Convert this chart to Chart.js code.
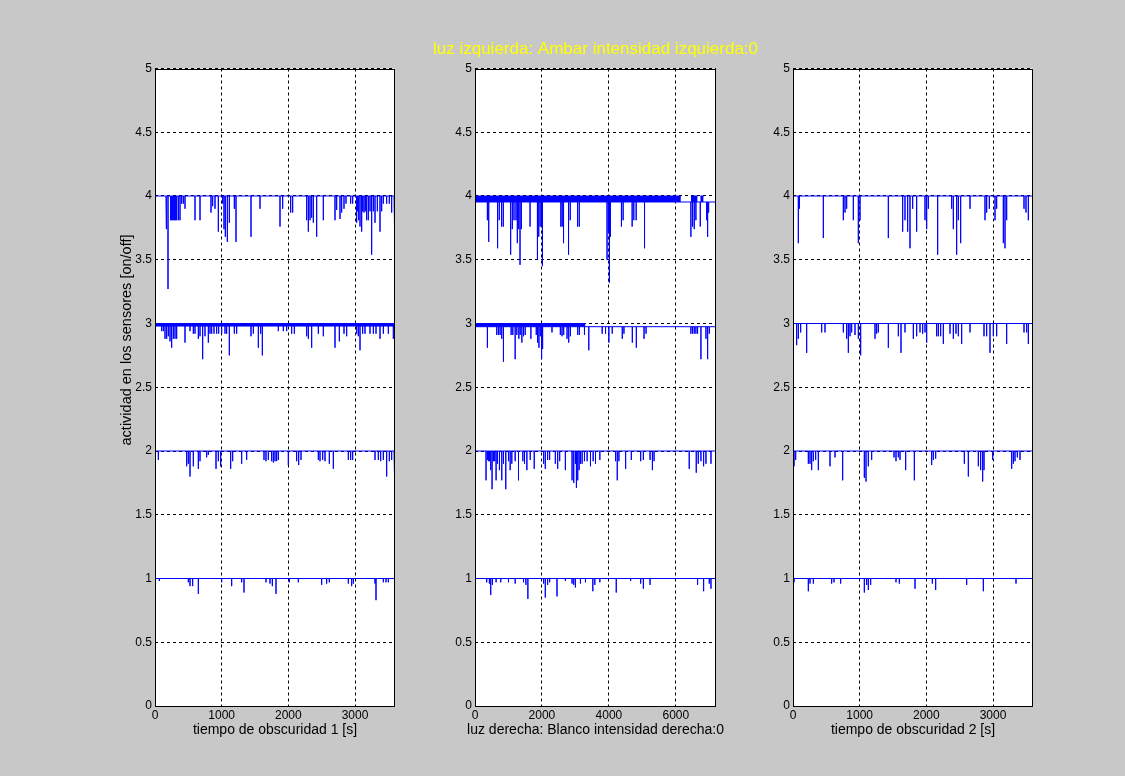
<!DOCTYPE html>
<html><head><meta charset="utf-8">
<script src="https://cdn.jsdelivr.net/npm/chart.js@4.4.1/dist/chart.umd.min.js"></script>
<style>
html,body{margin:0;padding:0;background:#c8c8c8;}
#wrap{position:relative;width:1125px;height:776px;overflow:hidden;background:#c8c8c8;}
canvas{position:absolute;left:0;top:0;}
</style></head><body><div id="wrap">
<canvas id="c1" width="1125" height="776"></canvas>
<canvas id="c2" width="1125" height="776"></canvas>
<canvas id="c3" width="1125" height="776"></canvas>
</div>
<script>
// ---------- data ----------
const titleText = "luz izquierda: Ambar intensidad izquierda:0";
const xLabels = ["tiempo de obscuridad 1 [s]", "luz derecha: Blanco intensidad derecha:0", "tiempo de obscuridad 2 [s]"];
const yLabel = "actividad en los sensores [on/off]";
const yTicks = [0,0.5,1,1.5,2,2.5,3,3.5,4,4.5,5];
const p1XTicks = [0,1000,2000,3000];
const p2XTicks = [0,2000,4000,6000];
const p3XTicks = [0,1000,2000,3000];
const xMax = [3600, 7200, 3600];

// baselines of the four sensor channels (1..4) per panel
const p1Base = [1, 2, 3, 4];
const p2Base = [1, 2, 2.975, 3.953];
const p3Base = [1, 2, 3, 4];

// dense toggling bands: [baseline, from, to, otherEdge]
const p1Bands = [[3, 0, 3600, 2.98]];
const p2Bands = [[2.975, 0, 3300, 3.0], [3.953, 0, 6150, 4.0], [3.953, 6450, 6650, 4.0], [3.953, 6730, 6830, 4.0]];
const p3Bands = [];

// spikes [time, minimum value]
const p1c4 = [[165,3.74],[175,3.74],[195,3.27],[235,3.81],[250,3.81],[265,3.81],[280,3.81],[295,3.81],[310,3.81],[325,3.81],[350,3.81],[375,3.81],[400,3.94],[425,3.94],[450,3.9],[600,3.81],[675,3.81],[840,3.87],[865,3.92],[900,3.9],[950,3.72],[1015,3.94],[1035,3.74],[1055,3.68],[1085,3.64],[1115,3.79],[1190,3.9],[1215,3.64],[1440,3.68],[1575,3.9],[1875,3.76],[1915,3.9],[2035,3.87],[2065,3.87],[2275,3.81],[2300,3.72],[2325,3.81],[2350,3.83],[2375,3.79],[2425,3.68],[2525,3.81],[2700,3.81],[2725,3.89],[2775,3.82],[2800,3.87],[2835,3.9],[2865,3.94],[2935,3.94],[2965,3.94],[3025,3.79],[3040,3.88],[3055,3.81],[3075,3.76],[3100,3.72],[3115,3.88],[3135,3.87],[3155,3.88],[3175,3.81],[3200,3.81],[3225,3.88],[3250,3.54],[3275,3.88],[3300,3.79],[3335,3.88],[3375,3.72],[3400,3.88],[3425,3.94],[3475,3.94],[3515,3.94],[3550,3.87],[3585,3.76],[3598,3.76]];
const p1c3 = [[5,2.84],[100,2.94],[125,2.94],[150,2.88],[175,2.88],[200,2.9],[225,2.86],[250,2.81],[275,2.88],[300,2.88],[325,2.88],[450,2.85],[525,2.94],[575,2.92],[600,2.92],[650,2.88],[675,2.9],[715,2.72],[750,2.9],[800,2.85],[825,2.92],[850,2.92],[885,2.92],[925,2.92],[955,2.92],[1000,2.92],[1050,2.92],[1075,2.92],[1115,2.75],[1190,2.92],[1225,2.92],[1440,2.9],[1475,2.92],[1550,2.81],[1585,2.92],[1610,2.75],[1850,2.94],[1925,2.94],[1975,2.94],[2050,2.92],[2090,2.92],[2275,2.9],[2300,2.88],[2350,2.81],[2450,2.92],[2525,2.9],[2700,2.81],[2765,2.86],[2835,2.92],[2875,2.9],[3025,2.92],[3050,2.9],[3075,2.79],[3115,2.92],[3150,2.92],[3225,2.92],[3275,2.92],[3315,2.92],[3375,2.88],[3425,2.92],[3500,2.92],[3575,2.88],[3598,2.88]];
const p1c2 = [[50,1.93],[475,1.88],[500,1.9],[525,1.8],[575,1.88],[650,1.86],[675,1.92],[775,1.95],[800,1.97],[915,1.86],[950,1.92],[985,1.88],[1135,1.86],[1165,1.92],[1300,1.9],[1375,1.93],[1635,1.93],[1665,1.92],[1700,1.93],[1750,1.92],[1775,1.91],[1800,1.92],[1825,1.92],[1850,1.93],[2000,1.89],[2125,1.92],[2155,1.89],[2190,1.93],[2450,1.93],[2475,1.92],[2515,1.93],[2550,1.92],[2615,1.9],[2675,1.86],[2900,1.93],[2935,1.93],[2965,1.93],[3300,1.93],[3350,1.93],[3385,1.92],[3425,1.93],[3475,1.8],[3515,1.92],[3550,1.93],[3585,1.8],[3598,1.8]];
const p1c1 = [[65,0.98],[500,0.97],[525,0.94],[565,0.94],[650,0.88],[1000,0.97],[1150,0.94],[1300,0.97],[1335,0.89],[1665,0.97],[1725,0.96],[1760,0.94],[1815,0.88],[2015,0.97],[2150,0.97],[2500,0.95],[2575,0.96],[2615,0.97],[2900,0.96],[2950,0.94],[2975,0.96],[3300,0.96],[3315,0.83],[3425,0.97],[3465,0.97],[3500,0.97],[3598,0.98]];

const p2c4 = [[370,3.81],[410,3.64],[675,3.59],[725,3.81],[795,3.76],[845,3.76],[1065,3.54],[1115,3.74],[1165,3.81],[1225,3.81],[1265,3.63],[1305,3.74],[1345,3.46],[1385,3.74],[1645,3.76],[1865,3.5],[1905,3.68],[1945,3.76],[1985,3.76],[2015,3.45],[2565,3.76],[2605,3.76],[2645,3.63],[2795,3.54],[2845,3.81],[3065,3.76],[3115,3.76],[3945,3.5],[3985,3.71],[4015,3.32],[4045,3.68],[4375,3.76],[4425,3.81],[4695,3.76],[4745,3.81],[4815,3.81],[5065,3.59],[6450,3.68],[6500,3.76],[6550,3.74],[6600,3.81],[6730,3.76],[6920,3.81],[6950,3.68],[6980,3.87]];
const p2c3 = [[370,2.81],[650,2.91],[700,2.91],[750,2.91],[800,2.88],[850,2.7],[1080,2.91],[1130,2.91],[1200,2.72],[1250,2.91],[1310,2.88],[1350,2.91],[1400,2.85],[1450,2.9],[1500,2.91],[1670,2.88],[1830,2.91],[1870,2.85],[1910,2.81],[1950,2.9],[1990,2.72],[2020,2.8],[2300,2.93],[2550,2.91],[2600,2.9],[2650,2.91],[2750,2.88],[2800,2.85],[2850,2.9],[3070,2.91],[3120,2.91],[3270,2.91],[3400,2.79],[3800,2.92],[3900,2.92],[4000,2.85],[4100,2.92],[4400,2.88],[4450,2.92],[4700,2.85],[4820,2.81],[5050,2.88],[5110,2.92],[6450,2.92],[6500,2.92],[6550,2.92],[6600,2.92],[6650,2.92],[6750,2.72],[6900,2.88],[6950,2.72],[7000,2.92]];
const p2c2 = [[5,1.92],[330,1.77],[370,1.93],[400,1.92],[430,1.92],[470,1.85],[510,1.7],[550,1.92],[590,1.92],[630,1.77],[670,1.9],[730,1.85],[800,1.77],[850,1.9],[920,1.7],[1000,1.92],[1050,1.85],[1100,1.9],[1200,1.92],[1300,1.77],[1430,1.92],[1480,1.9],[1550,1.85],[1650,1.93],[1770,1.86],[2050,1.9],[2100,1.86],[2170,1.93],[2230,1.93],[2400,1.9],[2470,1.86],[2530,1.92],[2700,1.85],[2900,1.77],[2950,1.75],[3000,1.9],[3030,1.71],[3070,1.77],[3110,1.85],[3150,1.9],[3200,1.9],[3270,1.92],[3350,1.92],[3450,1.88],[3530,1.92],[3600,1.9],[3730,1.93],[4200,1.92],[4250,1.77],[4300,1.92],[4500,1.86],[4670,1.93],[4950,1.92],[5030,1.93],[5230,1.93],[5300,1.85],[5350,1.92],[6400,1.86],[6610,1.83],[6670,1.9],[6750,1.92],[6830,1.88],[6900,1.9],[7050,1.9]];
const p2c1 = [[5,0.97],[350,0.97],[430,0.96],[470,0.87],[520,0.95],[630,0.97],[770,0.97],[1000,0.97],[1200,0.96],[1450,0.97],[1520,0.95],[1580,0.84],[2050,0.96],[2100,0.85],[2170,0.95],[2230,0.97],[2450,0.86],[2700,0.98],[2900,0.96],[2950,0.95],[3000,0.93],[3150,0.96],[3300,0.97],[3520,0.9],[3580,0.95],[3730,0.97],[4220,0.89],[4650,0.98],[4950,0.96],[5030,0.92],[5230,0.95],[6650,0.95],[6830,0.9],[7000,0.96],[7050,0.92]];

const p3c4 = [[80,3.63],[95,3.9],[455,3.67],[755,3.81],[780,3.87],[805,3.9],[905,3.81],[980,3.63],[1005,3.81],[1430,3.67],[1645,3.72],[1680,3.81],[1720,3.72],[1755,3.59],[1795,3.9],[1855,3.72],[1980,3.81],[2005,3.74],[2030,3.9],[2170,3.54],[2380,3.9],[2405,3.74],[2455,3.54],[2480,3.81],[2515,3.63],[2655,3.9],[2880,3.81],[2905,3.87],[2945,3.9],[3030,3.81],[3055,3.9],[3155,3.63],[3180,3.59],[3205,3.81],[3465,3.9],[3495,3.87],[3530,3.81]];
const p3c3 = [[55,2.83],[80,2.88],[115,2.93],[205,2.77],[430,2.93],[480,2.93],[755,2.93],[805,2.88],[830,2.77],[855,2.9],[880,2.93],[930,2.91],[980,2.88],[1015,2.75],[1230,2.88],[1255,2.92],[1280,2.93],[1430,2.81],[1580,2.9],[1620,2.77],[1680,2.93],[1805,2.88],[1855,2.9],[1905,2.93],[1945,2.92],[1980,2.93],[2005,2.85],[2155,2.9],[2180,2.9],[2215,2.9],[2255,2.84],[2355,2.92],[2405,2.88],[2445,2.92],[2480,2.9],[2530,2.84],[2655,2.93],[2865,2.9],[2905,2.9],[2955,2.77],[3005,2.9],[3055,2.9],[3205,2.84],[3465,2.93],[3505,2.93],[3530,2.84]];
const p3c2 = [[15,1.88],[40,1.93],[230,1.9],[255,1.9],[280,1.85],[305,1.92],[340,1.93],[380,1.85],[555,1.88],[630,1.95],[745,1.77],[1070,1.79],[1095,1.76],[1130,1.88],[1180,1.93],[1515,1.95],[1545,1.92],[1580,1.95],[1605,1.93],[1690,1.85],[1820,1.77],[2080,1.89],[2105,1.93],[2140,1.94],[2570,1.9],[2630,1.8],[2780,1.88],[2815,1.85],[2845,1.76],[2865,1.85],[2995,1.93],[3280,1.86],[3305,1.9],[3330,1.92],[3365,1.95],[3405,1.93]];
const p3c1 = [[15,0.97],[230,0.9],[255,0.96],[305,0.96],[580,0.96],[615,0.97],[715,0.96],[1070,0.89],[1105,0.95],[1130,0.91],[1165,0.95],[1545,0.97],[1595,0.96],[1830,0.92],[2090,0.96],[2140,0.91],[2605,0.95],[2855,0.9],[3345,0.96],[3595,0.94]];

// ---------- layout / style ----------
const PANEL_L = [155, 475, 793];
const PANEL_R = [395, 716, 1033];
const TOP = 68.5, BOTTOM = 706;
const YW = 60, XH = 36;
const FONT = "'Liberation Sans', Arial, Helvetica, sans-serif";
const BLUE = '#0000ff';
const TICK_SIZE = 12, XLAB_SIZE = 14, YLAB_SIZE = 14.5, TITLE_SIZE = 17;
const YLAB_X = 127, YLAB_Y = 340;
const XLAB_Y = 730, TITLE_Y = 49;

function spikeLine(base, spikes, xmax) {
  const s = spikes.slice().sort((a, b) => a[0] - b[0]);
  const pts = [{x: 0, y: base}];
  for (const [t, v] of s) { pts.push({x: t, y: base}, {x: t, y: v}, {x: t, y: base}); }
  pts.push({x: xmax, y: base});
  return pts;
}

const framePlugin = {
  id: 'frame',
  afterDatasetsDraw(chart) {
    const a = chart.chartArea, ctx = chart.ctx;
    ctx.save();
    ctx.strokeStyle = '#000'; ctx.lineWidth = 1; ctx.setLineDash([]);
    ctx.strokeRect(Math.round(a.left) + 0.5, Math.round(a.top) + 0.5, Math.round(a.right - a.left) - 1, Math.round(a.bottom - a.top) - 1);
    ctx.restore();
  }
};
const bgPlugin = {
  id: 'plotbg',
  beforeDraw(chart) {
    const a = chart.chartArea, ctx = chart.ctx;
    ctx.save(); ctx.fillStyle = '#ffffff';
    ctx.fillRect(a.left, a.top, a.right - a.left, a.bottom - a.top);
    ctx.restore();
  }
};
// axis labels and title, drawn as real text relative to each plot box
function labelPlugin(idx) {
  return {
    id: 'labels' + idx,
    afterDraw(chart) {
      const a = chart.chartArea, ctx = chart.ctx;
      const cx = (a.left + a.right) / 2;
      ctx.save();
      ctx.textAlign = 'center'; ctx.textBaseline = 'middle';
      ctx.fillStyle = '#000';
      ctx.font = XLAB_SIZE + 'px ' + FONT;
      ctx.fillText(xLabels[idx], cx, XLAB_Y);
      if (idx === 1) {
        ctx.fillStyle = '#ffff00';
        ctx.font = TITLE_SIZE + 'px ' + FONT;
        ctx.fillText(titleText, cx, TITLE_Y);
      }
      if (idx === 0) {
        ctx.translate(YLAB_X, YLAB_Y);
        ctx.rotate(-Math.PI / 2);
        ctx.fillStyle = '#000';
        ctx.font = YLAB_SIZE + 'px ' + FONT;
        ctx.fillText(yLabel, 0, 0);
      }
      ctx.restore();
    }
  };
}

function makePanel(idx, canvasId, bases, channels, bands, xTicks) {
  const xmax = xMax[idx];
  const datasets = [];
  bands.forEach(b => {
    datasets.push({
      data: [{x: b[1], y: b[3]}, {x: b[2], y: b[3]}],
      borderColor: BLUE, backgroundColor: BLUE, borderWidth: 1,
      pointRadius: 0, tension: 0, fill: {value: b[0]}
    });
  });
  channels.forEach((sp, i) => {
    datasets.push({
      data: spikeLine(bases[i], sp, xmax),
      borderColor: BLUE, borderWidth: 1, pointRadius: 0, tension: 0, fill: false
    });
  });
  const cfg = {
    type: 'line',
    data: {datasets},
    options: {
      responsive: false, animation: false, events: [],
      layout: {padding: {left: PANEL_L[idx] - YW, right: 1125 - PANEL_R[idx], top: TOP, bottom: 776 - BOTTOM - XH}},
      plugins: {legend: {display: false}, tooltip: {enabled: false}, title: {display: false}},
      scales: {
        x: {
          type: 'linear', min: 0, max: xmax,
          afterBuildTicks: s => { s.ticks = xTicks.map(v => ({value: v})); },
          afterFit: s => { s.height = XH; },
          grid: {color: '#000', lineWidth: 1, drawTicks: false},
          border: {display: false, dash: [3, 3]},
          ticks: {color: '#000', padding: 2, maxRotation: 0, autoSkip: false, font: {family: FONT, size: TICK_SIZE}, callback: v => String(v)}
        },
        y: {
          type: 'linear', min: 0, max: 5,
          afterBuildTicks: s => { s.ticks = yTicks.map(v => ({value: v})); },
          afterFit: s => { s.width = YW; },
          grid: {color: '#000', lineWidth: 1, drawTicks: false},
          border: {display: false, dash: [3, 3]},
          ticks: {color: '#000', padding: 3, autoSkip: false, font: {family: FONT, size: TICK_SIZE}, callback: v => String(v)}
        }
      }
    },
    plugins: [bgPlugin, framePlugin, labelPlugin(idx)]
  };
  return new Chart(document.getElementById(canvasId), cfg);
}

makePanel(0, 'c1', p1Base, [p1c1, p1c2, p1c3, p1c4], p1Bands, p1XTicks);
makePanel(1, 'c2', p2Base, [p2c1, p2c2, p2c3, p2c4], p2Bands, p2XTicks);
makePanel(2, 'c3', p3Base, [p3c1, p3c2, p3c3, p3c4], p3Bands, p3XTicks);
</script>
</body></html>
